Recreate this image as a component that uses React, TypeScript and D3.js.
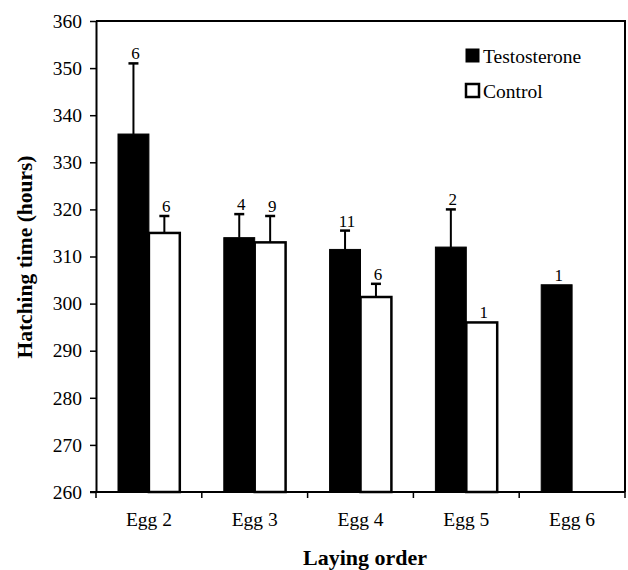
import React, { useEffect, useRef } from 'react';
import * as d3 from 'd3';

const categories = ['Egg 2', 'Egg 3', 'Egg 4', 'Egg 5', 'Egg 6'];
const testosterone = [336, 314, 311.5, 312, 304];
const testosteroneErr = [15, 5, 4, 8, 0];
const testosteroneN = ['6', '4', '11', '2', '1'];
const control: (number | null)[] = [315, 313, 301.4, 296, null];
const controlErr = [3.6, 5.6, 2.8, 0, 0];
const controlN = ['6', '9', '6', '1', ''];
const yTicks = [260, 270, 280, 290, 300, 310, 320, 330, 340, 350, 360];
const seriesNames = ['Testosterone', 'Control'];

const FONT = '"Liberation Serif", "Times New Roman", serif';

const App: React.FC = () => {
  const svgRef = useRef<SVGSVGElement>(null);

  useEffect(() => {
    if (!svgRef.current) return;
    const svg = d3.select(svgRef.current);
    svg.selectAll('*').remove();

    const width = 628;
    const height = 570;
    const margin = { top: 21, right: 3, bottom: 78, left: 96 };
    const plotBottom = height - margin.bottom;
    const plotRight = width - margin.right;

    const x = d3.scaleBand().domain(categories).range([margin.left, plotRight]).padding(0);
    const sub = d3.scaleBand().domain(['T', 'C']).range([22, x.bandwidth() - 22]).padding(0);
    const y = d3.scaleLinear().domain([260, 360]).range([plotBottom, margin.top]);

    const g = svg.append('g').style('font-family', FONT);

    // frame (top + right)
    g.append('path')
      .attr('d', `M${margin.left},${margin.top}H${plotRight}V${plotBottom}`)
      .attr('fill', 'none')
      .attr('stroke', '#000')
      .attr('stroke-width', 2);

    type Bar = { cat: string; key: string; value: number; err: number; n: string };
    const bars: Bar[] = [];
    categories.forEach((c, i) => {
      bars.push({ cat: c, key: 'T', value: testosterone[i], err: testosteroneErr[i], n: testosteroneN[i] });
      const cv = control[i];
      if (cv != null) bars.push({ cat: c, key: 'C', value: cv, err: controlErr[i], n: controlN[i] });
    });

    const bx = (d: Bar) => x(d.cat)! + sub(d.key)!;

    // error bars
    const eb = g.selectAll('.err').data(bars.filter(d => d.err > 0)).enter().append('g');
    eb.append('line')
      .attr('x1', d => bx(d) + sub.bandwidth() / 2)
      .attr('x2', d => bx(d) + sub.bandwidth() / 2)
      .attr('y1', d => y(d.value))
      .attr('y2', d => y(d.value + d.err))
      .attr('stroke', '#000')
      .attr('stroke-width', 2);
    eb.append('line')
      .attr('x1', d => bx(d) + sub.bandwidth() / 2 - 5)
      .attr('x2', d => bx(d) + sub.bandwidth() / 2 + 5)
      .attr('y1', d => y(d.value + d.err))
      .attr('y2', d => y(d.value + d.err))
      .attr('stroke', '#000')
      .attr('stroke-width', 2.5);

    // bars
    g.selectAll('.bar')
      .data(bars)
      .enter()
      .append('rect')
      .attr('x', d => bx(d))
      .attr('y', d => y(d.value))
      .attr('width', sub.bandwidth())
      .attr('height', d => plotBottom - y(d.value))
      .attr('fill', d => (d.key === 'T' ? '#000' : '#fff'))
      .attr('stroke', '#000')
      .attr('stroke-width', d => (d.key === 'T' ? 1 : 2.5));

    // n labels
    g.selectAll('.nlab')
      .data(bars)
      .enter()
      .append('text')
      .attr('x', d => bx(d) + sub.bandwidth() / 2 + 2)
      .attr('y', d => y(d.value + d.err) - 4)
      .attr('text-anchor', 'middle')
      .attr('font-size', 17)
      .text(d => d.n);

    // y axis
    const yAxis = g.append('g')
      .attr('transform', `translate(${margin.left},0)`)
      .call(d3.axisLeft(y).tickValues(yTicks).tickSize(6).tickSizeOuter(0).tickPadding(8));
    yAxis.select('.domain').attr('stroke-width', 2);
    yAxis.selectAll('.tick line').attr('stroke-width', 1.5);
    yAxis.selectAll('.tick text').attr('font-size', 19.5).attr('font-family', FONT).attr('fill', '#000');

    // x axis
    g.append('line')
      .attr('x1', margin.left - 6).attr('x2', plotRight)
      .attr('y1', plotBottom).attr('y2', plotBottom)
      .attr('stroke', '#000').attr('stroke-width', 2);
    const bounds = categories.map(c => x(c)!).concat([plotRight]);
    g.selectAll('.xtick')
      .data(bounds)
      .enter()
      .append('line')
      .attr('x1', d => d).attr('x2', d => d)
      .attr('y1', plotBottom).attr('y2', plotBottom + 6)
      .attr('stroke', '#000').attr('stroke-width', 1.5);
    g.selectAll('.xlab')
      .data(categories)
      .enter()
      .append('text')
      .attr('x', d => x(d)! + x.bandwidth() / 2)
      .attr('y', plotBottom + 34)
      .attr('text-anchor', 'middle')
      .attr('font-size', 19.5)
      .text(d => d);

    // axis titles
    g.append('text')
      .attr('x', 365)
      .attr('y', 565)
      .attr('text-anchor', 'middle')
      .attr('font-size', 22)
      .attr('font-weight', 'bold')
      .text('Laying order');
    g.append('text')
      .attr('transform', `translate(32,257) rotate(-90)`)
      .attr('text-anchor', 'middle')
      .attr('font-size', 21.5)
      .attr('font-weight', 'bold')
      .text('Hatching time (hours)');

    // legend
    const leg = g.append('g').attr('transform', 'translate(466,49)');
    seriesNames.forEach((name, i) => {
      const row = leg.append('g').attr('transform', `translate(0,${i * 35})`);
      row.append('rect')
        .attr('x', 0).attr('y', 0).attr('width', 13).attr('height', 13)
        .attr('fill', i === 0 ? '#000' : '#fff')
        .attr('stroke', '#000')
        .attr('stroke-width', i === 0 ? 1 : 2.5);
      row.append('text')
        .attr('x', 17)
        .attr('y', 13.5)
        .attr('font-size', 19.5)
        .text(name);
    });
  }, []);

  return (
    <svg
      ref={svgRef}
      width={628}
      height={570}
      style={{ position: 'absolute', left: 0, top: 0, background: '#fff' }}
    />
  );
};

export default App;
